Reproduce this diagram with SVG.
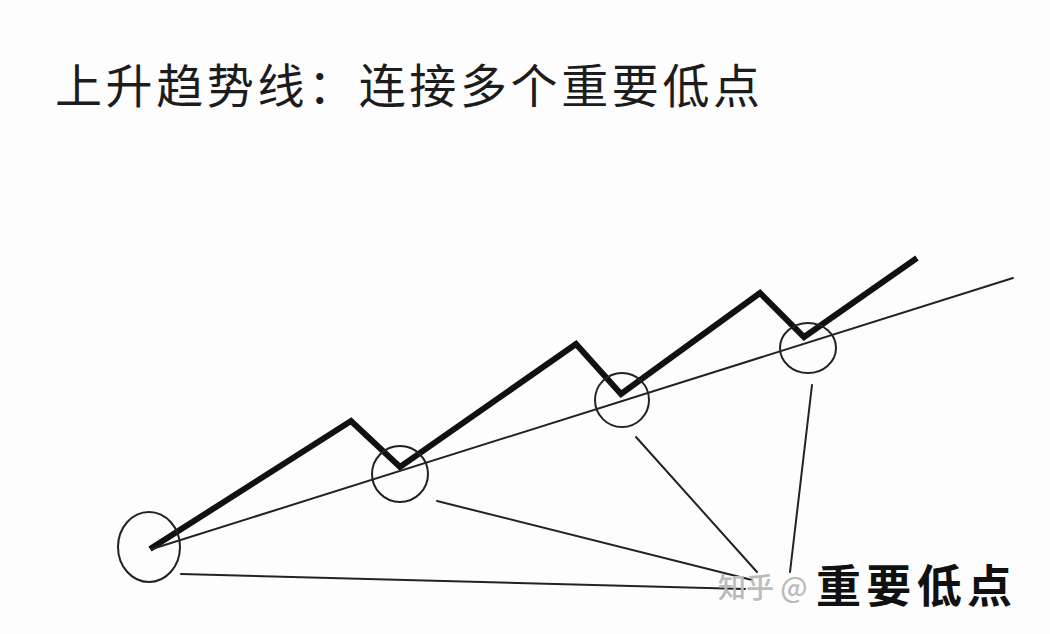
<svg xmlns="http://www.w3.org/2000/svg" width="1050" height="634" viewBox="0 0 1050 634">
<style>
.ring{fill:none;stroke:#222;stroke-width:2}
.thin{fill:none;stroke:#222;stroke-width:2;stroke-linecap:round}
.price{fill:none;stroke:#111;stroke-width:6;stroke-linejoin:miter;stroke-linecap:butt}
.title{font-family:"Noto Sans CJK SC","Noto Sans",sans-serif;font-size:47px;fill:#1c1c1c;font-weight:400}
.label{font-family:"Noto Sans CJK SC","Noto Sans",sans-serif;font-size:45px;fill:#111;font-weight:700}
.wm{font-family:"Noto Sans CJK SC","Noto Sans",sans-serif;font-size:28px;fill:#bbb;font-weight:500}
</style>
<rect width="1050" height="634" fill="#fdfdfd"/>
<g id="title"><text class="title" x="55" y="103" textLength="705">上升趋势线：连接多个重要低点</text></g>
<g id="connectors">
<polyline id="price" class="price" points="150,549 351,421 400,467 576,344 621,394 760,293 804,337 917,258"/>
<line id="trendline" class="thin" x1="152" y1="549" x2="1013" y2="278"/>
<line class="thin" x1="181" y1="574" x2="745" y2="589"/>
<line class="thin" x1="437" y1="501" x2="752" y2="580"/>
<line class="thin" x1="636" y1="437" x2="757" y2="572"/>
<line class="thin" x1="812" y1="385" x2="790" y2="572"/>
</g>
<g id="low1"><ellipse class="ring" cx="149" cy="547" rx="31" ry="35"/></g>
<g id="low2"><ellipse class="ring" cx="400" cy="474" rx="28" ry="28"/></g>
<g id="low3"><ellipse class="ring" cx="622" cy="400" rx="27" ry="27"/></g>
<g id="low4"><ellipse class="ring" cx="808" cy="348" rx="28" ry="25"/></g>
<g id="label"><text class="label" x="816" y="603" textLength="196">重要低点</text></g>
<g id="watermark"><text class="wm" x="718" y="598">知乎 @</text></g>
</svg>
